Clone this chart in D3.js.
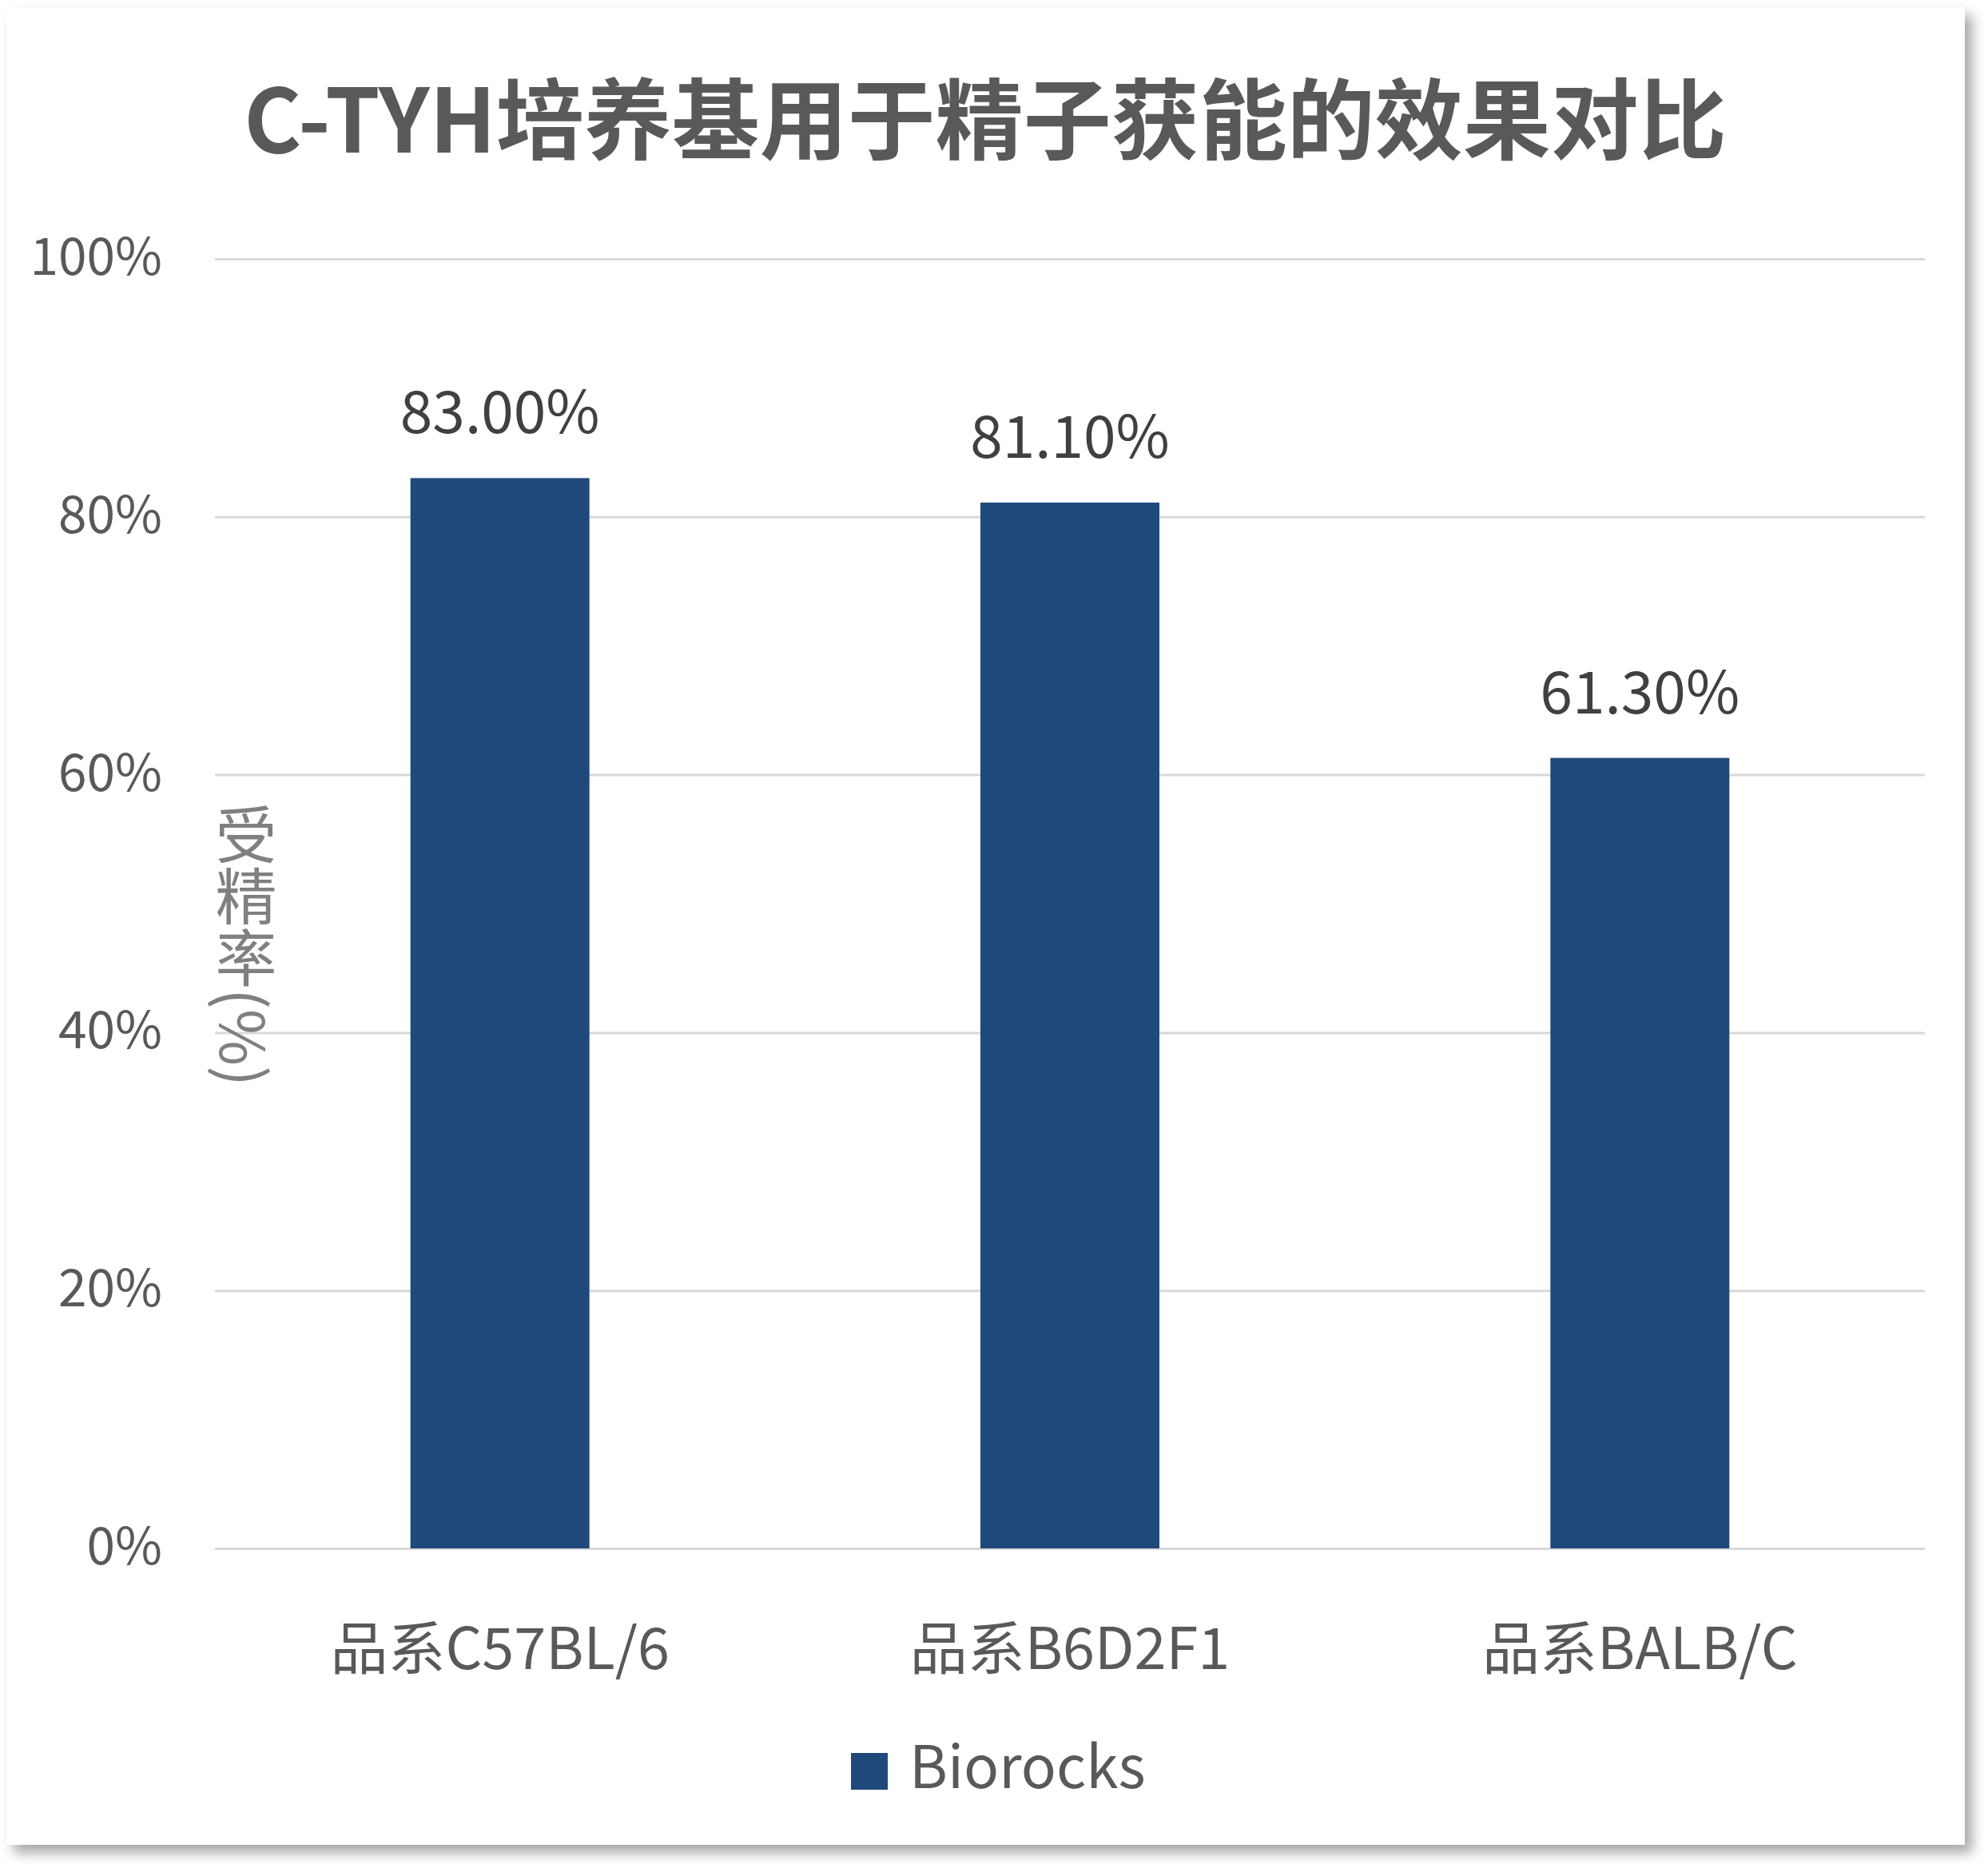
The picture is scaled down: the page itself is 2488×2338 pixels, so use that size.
<!DOCTYPE html>
<html>
<head>
<meta charset="utf-8">
<script src="https://cdn.jsdelivr.net/npm/d3@7"></script>
<style>
  body { margin: 0; background: #fff; }
  svg text { font-family: "Noto Sans CJK SC", "Noto Sans", sans-serif; }
</style>
</head>
<body>
<div id="chart"></div>
<script>
// data
const strains = ["品系C57BL/6", "品系B6D2F1", "品系BALB/C"];
const rates = [83.0, 81.1, 61.3];
const yTicks = [0, 20, 40, 60, 80, 100];
const seriesName = "Biorocks";
const chartTitle = "C-TYH培养基用于精子获能的效果对比";
const yTitle = "受精率(%)";

// set the dimensions and margins of the graph
const W = 2488, H = 2338;
const margin = {top: 324, right: 79, bottom: 400, left: 269};
const width = W - margin.left - margin.right;
const height = H - margin.top - margin.bottom;

const svgRoot = d3.select("#chart")
  .append("svg")
    .attr("width", W)
    .attr("height", H)
    .attr("viewBox", `0 0 ${W} ${H}`);

// card shadow
const defs = svgRoot.append("defs");
const shadow = defs.append("filter")
    .attr("id", "shadow")
    .attr("x", "-5%").attr("y", "-5%")
    .attr("width", "110%").attr("height", "110%");
shadow.append("feDropShadow")
    .attr("dx", 9).attr("dy", 10)
    .attr("stdDeviation", 8)
    .attr("flood-color", "#000")
    .attr("flood-opacity", 0.35);

svgRoot.append("rect")
    .attr("x", 8).attr("y", 9)
    .attr("width", 2451).attr("height", 2300)
    .attr("fill", "#fff")
    .attr("filter", "url(#shadow)");

const svg = svgRoot.append("g")
    .attr("transform", `translate(${margin.left}, ${margin.top})`);

// scales
const xScale = d3.scaleBand()
    .domain(strains)
    .range([0, width])
    .paddingInner(0.686)
    .paddingOuter(0.343);

const yScale = d3.scaleLinear()
    .domain([0, 100])
    .range([height, 0]);

// horizontal grid lines
svg.append("g")
    .attr("class", "grid")
  .call(d3.axisLeft(yScale)
    .tickValues(yTicks)
    .tickSize(-width)
    .tickFormat(""))
  .call(g => g.select(".domain").remove())
  .call(g => g.selectAll(".tick line")
    .attr("stroke", "#D9D9D9")
    .attr("stroke-width", 3));

// y tick labels
svg.append("g")
  .selectAll("text")
  .data(yTicks)
  .join("text")
    .attr("x", -66)
    .attr("y", d => yScale(d) + 20)
    .attr("text-anchor", "end")
    .attr("font-size", 64)
    .attr("fill", "#595959")
  .text(d => d + "%");

// bars
svg.selectAll("rect.bar")
  .data(rates)
  .join("rect")
    .attr("class", "bar")
    .attr("x", (d, i) => xScale(strains[i]))
    .attr("y", d => yScale(d))
    .attr("width", xScale.bandwidth())
    .attr("height", d => height - yScale(d))
    .attr("fill", "#1F497A");

// data labels
svg.selectAll("text.value")
  .data(rates)
  .join("text")
    .attr("class", "value")
    .attr("x", (d, i) => xScale(strains[i]) + xScale.bandwidth() / 2)
    .attr("y", d => yScale(d) - 56)
    .attr("text-anchor", "middle")
    .attr("font-size", 73)
    .attr("fill", "#404040")
  .text(d => d.toFixed(2) + "%");

// x labels
svg.append("g")
    .attr("transform", `translate(0, ${height})`)
  .selectAll("text")
  .data(strains)
  .join("text")
    .attr("x", d => xScale(d) + xScale.bandwidth() / 2)
    .attr("y", 151)
    .attr("text-anchor", "middle")
    .attr("font-size", 72)
    .attr("fill", "#595959")
  .text(d => d);

// title
svgRoot.append("text")
    .attr("x", 1233)
    .attr("y", 191)
    .attr("text-anchor", "middle")
    .attr("font-size", 110)
    .attr("font-weight", "bold")
    .attr("fill", "#595959")
  .text(chartTitle);

// y axis title, written vertically
svgRoot.append("text")
    .attr("x", 308)
    .attr("y", 1183)
    .attr("text-anchor", "middle")
    .attr("font-size", 77)
    .attr("fill", "#808080")
    .style("writing-mode", "vertical-rl")
  .text(yTitle);

// legend
const legend = svgRoot.append("g")
    .attr("transform", "translate(1065, 2194)");
legend.append("rect")
    .attr("width", 46)
    .attr("height", 46)
    .attr("fill", "#1F497A");
legend.append("text")
    .attr("x", 73)
    .attr("y", 44)
    .attr("font-size", 73)
    .attr("fill", "#595959")
  .text(seriesName);
</script>
</body>
</html>
